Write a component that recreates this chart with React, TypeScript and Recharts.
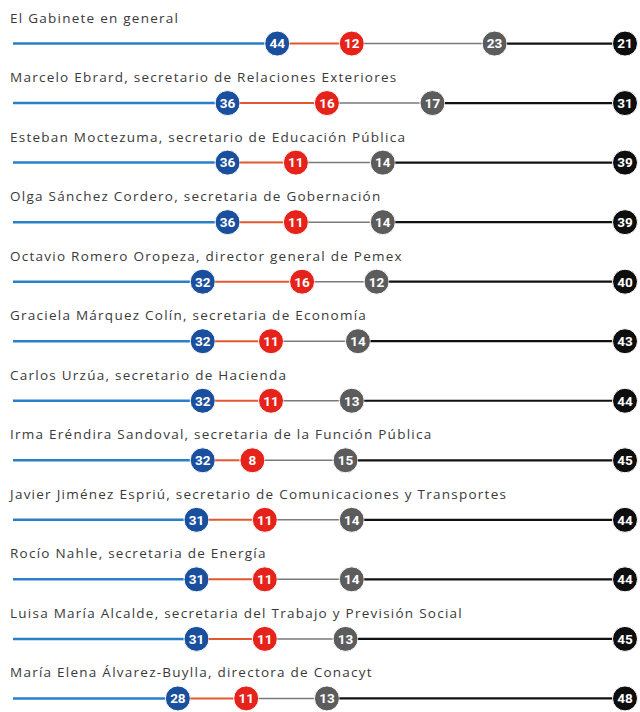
import React from "react";
import { BarChart, Bar, XAxis, YAxis } from "recharts";

const names = [
  "El Gabinete en general",
  "Marcelo Ebrard, secretario de Relaciones Exteriores",
  "Esteban Moctezuma, secretario de Educación Pública",
  "Olga Sánchez Cordero, secretaria de Gobernación",
  "Octavio Romero Oropeza, director general de Pemex",
  "Graciela Márquez Colín, secretaria de Economía",
  "Carlos Urzúa, secretario de Hacienda",
  "Irma Eréndira Sandoval, secretaria de la Función Pública",
  "Javier Jiménez Espriú, secretario de Comunicaciones y Transportes",
  "Rocío Nahle, secretaria de Energía",
  "Luisa María Alcalde, secretaria del Trabajo y Previsión Social",
  "María Elena Álvarez-Buylla, directora de Conacyt",
];
const favorable = [44, 36, 36, 36, 32, 32, 32, 32, 31, 31, 31, 28];
const neutral = [12, 16, 11, 11, 16, 11, 11, 8, 11, 11, 11, 11];
const noSabe = [23, 17, 14, 14, 12, 14, 13, 15, 14, 14, 13, 13];
const unfavorable = [21, 31, 39, 39, 40, 43, 44, 45, 44, 44, 45, 48];

const data = names.map((name, i) => ({
  name,
  favorable: favorable[i],
  neutral: neutral[i],
  noSabe: noSabe[i],
  unfavorable: unfavorable[i],
}));

const R = 12.5;

function makeShape(
  key: string,
  lineColor: string,
  lineWidth: number,
  circleColor: string,
  first: boolean
) {
  return (props: any) => {
    const { x, y, width, height, payload } = props;
    const cy = y + height / 2;
    const cx = x + width;
    const startX = first ? x + 9 : x + R;
    const v = payload[key];
    return (
      <g>
        {first && (
          <text
            x={x + 6}
            y={cy - 21}
            fontFamily="'Open Sans', sans-serif"
            fontSize={13.5}
            letterSpacing={1.25}
            fill="#3a3a3a"
          >
            {payload.name}
          </text>
        )}
        <line
          x1={startX}
          x2={cx - R}
          y1={cy}
          y2={cy}
          stroke={lineColor}
          strokeWidth={lineWidth}
        />
        <circle cx={cx} cy={cy} r={R} fill={circleColor} stroke="#fff" strokeWidth={1} />
        <text
          x={cx}
          y={cy}
          dy="0.36em"
          textAnchor="middle"
          fontFamily="Roboto, sans-serif"
          fontWeight={700}
          fontSize={13.5}
          fill="#fff"
        >
          {v}
        </text>
      </g>
    );
  };
}

export default function App() {
  return (
    <div
      style={{
        position: "absolute",
        left: 0,
        top: 0,
        width: 640,
        height: 712,
        overflow: "hidden",
        background: "#fff",
      }}
    >
      <BarChart
        width={640}
        height={728}
        data={data}
        layout="vertical"
        margin={{ top: 13.6, right: 15, bottom: 0, left: 4 }}
      >
        <XAxis type="number" domain={[0, 100]} hide />
        <YAxis type="category" dataKey="name" hide />
        <Bar
          dataKey="favorable"
          stackId="a"
          isAnimationActive={false}
          shape={makeShape("favorable", "#2a80c6", 2.5, "#1a4f9e", true)}
        />
        <Bar
          dataKey="neutral"
          stackId="a"
          isAnimationActive={false}
          shape={makeShape("neutral", "#e2572f", 2, "#e5231b", false)}
        />
        <Bar
          dataKey="noSabe"
          stackId="a"
          isAnimationActive={false}
          shape={makeShape("noSabe", "#7a7a7a", 1.5, "#5c5c5c", false)}
        />
        <Bar
          dataKey="unfavorable"
          stackId="a"
          isAnimationActive={false}
          shape={makeShape("unfavorable", "#111", 2.2, "#0e0e0e", false)}
        />
      </BarChart>
    </div>
  );
}
